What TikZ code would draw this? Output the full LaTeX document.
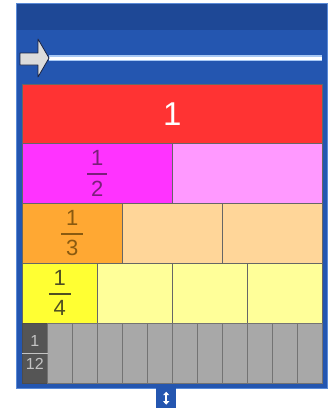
\documentclass[tikz,border=0pt]{standalone}
\usepackage{fontspec}
\setmainfont{Liberation Sans}
\usetikzlibrary{arrows.meta}
\definecolor{panelblue}{HTML}{2456B0}
\definecolor{paneltop}{HTML}{1E4896}
\definecolor{panelrim}{HTML}{5A8AD8}
\definecolor{glow}{HTML}{A8C8F4}
\definecolor{cred}{HTML}{FF3333}
\definecolor{cmag}{HTML}{FF33FF}
\definecolor{cmagl}{HTML}{FF99FF}
\definecolor{corg}{HTML}{FFA833}
\definecolor{corgl}{HTML}{FFD699}
\definecolor{cyel}{HTML}{FFFF33}
\definecolor{cyell}{HTML}{FFFF99}
\definecolor{cgray}{HTML}{A8A8A8}
\definecolor{cdark}{HTML}{555555}
\definecolor{tmag}{HTML}{7A1F7A}
\definecolor{torg}{HTML}{8A5A10}
\definecolor{tyel}{HTML}{4F4F22}
\definecolor{tgray}{HTML}{C4C4C4}
\definecolor{arrowfill}{HTML}{DCDCDC}
\definecolor{arrowline}{HTML}{1A2240}
\begin{document}
\begin{tikzpicture}[x=1pt,y=-1pt,
  cell/.style={draw=black!60,line width=0.7pt,inner sep=0pt,anchor=north west,minimum height=60pt},
  fracnum/.style={font=\fontsize{22}{22}\selectfont,inner sep=0pt},
  smallnum/.style={font=\fontsize{16}{16}\selectfont,inner sep=0pt},
  fracbar/.style={line width=2pt}]
\useasboundingbox (0,0) rectangle (330,408);
% panel
\node[draw=panelrim,fill=panelblue,line width=1pt,inner sep=0pt,anchor=north west,minimum width=311pt,minimum height=385pt] (panel) at (16,3) {};
\fill[paneltop] (16.5,3.5) rectangle (326.5,30);
% top bar with arrow
\coordinate (lineS) at (49,58);
\coordinate (lineE) at (322,58);
\draw[glow,line width=5.5pt] (lineS) -- (lineE);
\draw[white,line width=3pt] (lineS) -- (lineE);
\draw[fill=arrowfill,draw=arrowline,line width=0.8pt,line join=round]
  (20,53) -- (38,53) -- (38,39) -- (49,58) -- (38,77) -- (38,65) -- (20,65) -- cycle;
% row 1
\node[cell,fill=cred,minimum width=300pt,minimum height=59pt] (whole) at (22,84) {};
\node[text=white,font=\fontsize{33}{33}\selectfont,inner sep=0pt] (one) at (whole.center) {1};
% row 2
\node[cell,fill=cmag,minimum width=150pt] (h1) at (22,143) {};
\node[cell,fill=cmagl,minimum width=150pt] (h2) at (172,143) {};
\node[fracnum,text=tmag] (h1n) at ([yshift=15pt]h1.center) {1};
\node[fracnum,text=tmag] (h1d) at ([yshift=-15pt]h1.center) {2};
\draw[fracbar,tmag] ([xshift=-10pt,yshift=-1pt]h1.center) -- ([xshift=10pt,yshift=-1pt]h1.center);
% row 3
\node[cell,fill=corg,minimum width=100pt] (t1) at (22,203) {};
\node[cell,fill=corgl,minimum width=100pt] (t2) at (122,203) {};
\node[cell,fill=corgl,minimum width=100pt] (t3) at (222,203) {};
\node[fracnum,text=torg] (t1n) at ([yshift=15pt]t1.center) {1};
\node[fracnum,text=torg] (t1d) at ([yshift=-15pt]t1.center) {3};
\draw[fracbar,torg] ([xshift=-11pt,yshift=-1pt]t1.center) -- ([xshift=11pt,yshift=-1pt]t1.center);
% row 4
\node[cell,fill=cyel,minimum width=75pt] (q1) at (22,263) {};
\node[cell,fill=cyell,minimum width=75pt] (q2) at (97,263) {};
\node[cell,fill=cyell,minimum width=75pt] (q3) at (172,263) {};
\node[cell,fill=cyell,minimum width=75pt] (q4) at (247,263) {};
\node[fracnum,text=tyel] (q1n) at ([yshift=15pt]q1.center) {1};
\node[fracnum,text=tyel] (q1d) at ([yshift=-15pt]q1.center) {4};
\draw[fracbar,tyel] ([xshift=-11pt,yshift=-1pt]q1.center) -- ([xshift=11pt,yshift=-1pt]q1.center);
% row 5
\node[cell,fill=cdark,draw=black!70,minimum width=25pt] (d1) at (22,323) {};
\foreach \i in {2,...,12}{
  \node[cell,fill=cgray,draw=black!55,minimum width=25pt] (d\i) at ({22+25*(\i-1)},323) {};
}
\node[smallnum,text=tgray] (d1n) at ([yshift=12pt]d1.center) {1};
\node[smallnum,text=tgray] (d1d) at ([yshift=-11pt]d1.center) {12};
\draw[line width=1.5pt,tgray] (d1.west) -- (d1.east);
% bottom handle
\node[fill=panelblue,inner sep=0pt,minimum width=20pt,minimum height=20pt,anchor=north west] (handle) at (156,388) {};
\draw[white,line width=1.6pt,{Triangle[width=6pt,length=3.5pt]}-{Triangle[width=6pt,length=3.5pt]}] ([yshift=-6.5pt]handle.center) -- ([yshift=6.5pt]handle.center);
\end{tikzpicture}
\end{document}
